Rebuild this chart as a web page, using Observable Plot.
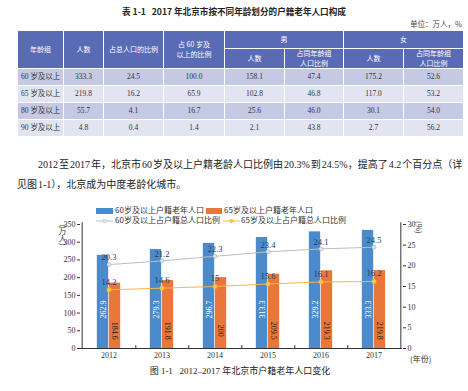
<!DOCTYPE html>
<html><head><meta charset="utf-8">
<script src="https://cdn.jsdelivr.net/npm/d3@7"></script>
<script src="https://cdn.jsdelivr.net/npm/@observablehq/plot@0.6"></script>
<style>
body{margin:0;background:#fff;}
#page{position:relative;width:468px;height:391px;overflow:hidden;font-family:"Liberation Serif","Noto Sans CJK SC",serif;color:#222;background:#fff;}
.abs{position:absolute;white-space:nowrap;}
#tbl{position:absolute;left:17px;top:30px;width:446px;border-collapse:collapse;table-layout:fixed;font-size:7.5px;}
#tbl td,#tbl th{border:1px solid #fff;padding:0;text-align:center;}
#tbl th{background:#5a6bb5;color:#fff;font-family:"Noto Sans CJK SC";font-weight:normal;line-height:9.5px;font-size:7px;}
#tbl td{color:#333;height:16px;line-height:10px;}
#tbl tr.odd td{background:#c6c9e4;}
#tbl tr.even td{background:#e2e4f1;}
#tbl td.first{text-align:left;padding-left:3px;}
.vert{writing-mode:vertical-rl;font-family:"Noto Sans CJK SC";font-size:8px;line-height:9px;color:#333;}
#chart{position:absolute;left:0;top:200px;}
.leg{font-family:"Noto Sans CJK SC";font-size:8px;color:#333;line-height:10px;}
.para{font-size:10px;word-spacing:-1.5px;color:#222;}
</style>
</head><body>
<div id="page">
  <div class="abs" style="left:0;width:468px;top:5px;text-align:center;font-family:'Noto Sans CJK SC';font-weight:bold;font-size:8.6px;color:#222;">表 1-1&nbsp;&nbsp; 2017 年北京市按不同年龄划分的户籍老年人口构成</div>
  <div class="abs" style="right:6px;top:18px;font-family:'Noto Sans CJK SC';font-size:7.5px;color:#444;">单位：万人，%</div>
  <table id="tbl"></table>
  <div class="abs para" style="left:38px;top:156px;">2012 至 2017 年，北京市 60 岁及以上户籍老龄人口比例由 20.3% 到 24.5%，提高了 4.2 个百分点（详</div>
  <div class="abs para" style="left:17px;top:176px;">见图 1-1），北京成为中度老龄化城市。</div>
  <div id="legend"></div>
  <div id="chart"></div>
  <div class="abs vert" style="left:58px;top:219px;">（万人）</div>
  <div class="abs vert" style="left:415px;top:221px;">(%)</div>
  <div class="abs" style="left:410px;top:353px;font-family:'Noto Sans CJK SC';font-size:8px;color:#333;">(年份)</div>
  <div class="abs" style="left:0;width:480px;top:364px;text-align:center;font-size:9px;color:#222;">图 1-1&nbsp;&nbsp; 2012–2017 年北京市户籍老年人口变化</div>
</div>
<script>
// ---- table data ----
const tableGroups = ["60 岁及以上", "65 岁及以上", "80 岁及以上", "90 岁及以上"];
const tableCount = [333.3, 219.8, 55.7, 4.8];
const tableShareTotal = [24.5, 16.2, 4.1, 0.4];
const tableShare60 = [100.0, 65.9, 16.7, 1.4];
const tableMale = [158.1, 102.8, 25.6, 2.1];
const tableMaleShare = [47.4, 46.8, 46.0, 43.8];
const tableFemale = [175.2, 117.0, 30.1, 2.7];
const tableFemaleShare = [52.6, 53.2, 54.0, 56.2];

// ---- chart data ----
const years = ["2012", "2013", "2014", "2015", "2016", "2017"];
const pop60 = [262.9, 279.3, 296.7, 313.3, 329.2, 333.3];
const pop65 = [184.6, 191.8, 200, 209.5, 219.3, 219.8];
const ratio60 = [20.3, 21.2, 22.3, 23.4, 24.1, 24.5];
const ratio65 = [14.2, 14.6, 15, 15.6, 16.1, 16.2];
const leftTicks = [0, 50, 100, 150, 200, 250, 300, 350];
const rightTicks = [0, 5, 10, 15, 20, 25, 30];
const legendLabels = ["60岁及以上户籍老年人口", "65岁及以上户籍老年人口", "60岁及以上占户籍总人口比例", "65岁及以上占户籍总人口比例"];

// build table
const tbl = document.getElementById("tbl");
const widths = [46, 40, 60, 61, 60, 59, 60, 60];
let html = "<colgroup>" + widths.map(w => `<col style="width:${w}px">`).join("") + "</colgroup>";
html += `<tr style="height:18px"><th rowspan="2">年龄组</th><th rowspan="2">人数</th><th rowspan="2">占总人口的比例</th><th rowspan="2">占 60 岁及<br>以上的比例</th><th colspan="2">男</th><th colspan="2">女</th></tr>`;
html += `<tr style="height:19px"><th>人数</th><th>占同年龄组<br>人口比例</th><th>人数</th><th>占同年龄组<br>人口比例</th></tr>`;
const f = v => v.toFixed(1);
tableGroups.forEach((g, i) => {
  html += `<tr class="${i % 2 === 0 ? "odd" : "even"}"><td class="first">${g}</td><td>${f(tableCount[i])}</td><td>${f(tableShareTotal[i])}</td><td>${f(tableShare60[i])}</td><td>${f(tableMale[i])}</td><td>${f(tableMaleShare[i])}</td><td>${f(tableFemale[i])}</td><td>${f(tableFemaleShare[i])}</td></tr>`;
});
tbl.innerHTML = html;

// legend
const blue = "#4b8bcb", orange = "#e9773a", grey = "#b9bdc3", yellow = "#f2b847";
const legend = document.getElementById("legend");
const lineIcon = (c, fillc) => `<svg width="17" height="6" style="vertical-align:middle"><line x1="0" y1="3" x2="17" y2="3" stroke="${c}" stroke-width="1"/><circle cx="8.5" cy="3" r="1.8" fill="${fillc}" stroke="${c}" stroke-width="0.6"/></svg>`;
legend.innerHTML =
  `<div class="abs leg" style="left:96px;top:205px;"><span style="display:inline-block;width:17px;height:6px;background:${blue};vertical-align:middle;margin-right:2px"></span>${legendLabels[0]}</div>` +
  `<div class="abs leg" style="left:206px;top:205px;"><span style="display:inline-block;width:16px;height:6px;background:${orange};vertical-align:middle;margin-right:2px"></span>${legendLabels[1]}</div>` +
  `<div class="abs leg" style="left:96px;top:215px;">${lineIcon(grey, "#dbe6f2")}<span style="margin-left:2px">${legendLabels[2]}</span></div>` +
  `<div class="abs leg" style="left:223px;top:215px;">${lineIcon(yellow, "#f6c84a")}<span style="margin-left:1px">${legendLabels[3]}</span></div>`;

// chart
const k = 350 / 30;
const data = years.map((year, i) => ({year, pop60: pop60[i], pop65: pop65[i], r60: ratio60[i], r65: ratio65[i]}));
const mL = 80, mR = 66, W = 468;
const bw = (W - mL - mR) / years.length;
const barW = 12;

const chart = Plot.plot({
  width: W, height: 165,
  marginLeft: mL, marginRight: mR, marginTop: 24, marginBottom: 17,
  x: {type: "band", domain: years, padding: 0, label: null},
  y: {domain: [0, 350], label: null},
  style: {fontFamily: "Liberation Serif", fontSize: "8px", color: "#333", background: "transparent"},
  marks: [
    Plot.barY(data, {x: "year", y: "pop60", fill: blue, insetLeft: bw / 2 - barW, insetRight: bw / 2}),
    Plot.barY(data, {x: "year", y: "pop65", fill: orange, insetLeft: bw / 2, insetRight: bw / 2 - barW}),
    Plot.text(data, {x: "year", y: 110, text: d => String(d.pop60), rotate: -90, dx: -6, fill: "white", fontSize: 8}),
    Plot.text(data, {x: "year", y: 50, text: d => String(d.pop65), rotate: 90, dx: 6, fill: "#2a1a10", fontSize: 8}),
    Plot.line(data, {x: "year", y: d => d.r60 * k, stroke: grey, strokeWidth: 1}),
    Plot.dot(data, {x: "year", y: d => d.r60 * k, r: 2, fill: "#dbe6f2", stroke: "#a9b4c0", strokeWidth: 0.7}),
    Plot.line(data, {x: "year", y: d => d.r65 * k, stroke: yellow, strokeWidth: 1}),
    Plot.dot(data, {x: "year", y: d => d.r65 * k, r: 2.2, fill: "#f6c84a", stroke: "#eeb030", strokeWidth: 0.5}),
    Plot.text(data, {x: "year", y: d => d.r60 * k, text: d => String(d.r60), dy: -7, fill: "#1d3a6a", fontSize: 8.5}),
    Plot.text(data, {x: "year", y: d => d.r65 * k, text: d => String(d.r65), dy: -8, fill: "#1d3a6a", fontSize: 8.5}),
    Plot.ruleY([0], {stroke: "#333", strokeWidth: 1}),
    Plot.ruleX([years[0]], {dx: -bw / 2, stroke: "#333", y1: 0, y2: 355}),
    Plot.ruleX([years[years.length - 1]], {dx: bw / 2, stroke: "#333", y1: 0, y2: 355}),
    Plot.ruleX(years.slice(0, -1), {dx: bw / 2, y1: 0, y2: 8, stroke: "#333"}),
    Plot.axisY(leftTicks, {anchor: "left", tickSize: 3, tickPadding: 2, label: null}),
    Plot.axisY(rightTicks.map(v => v * k), {anchor: "right", tickSize: 3, tickPadding: 2, tickFormat: d => Math.round(d / k), label: null}),
    Plot.axisX({tickSize: 0, tickPadding: 4, label: null})
  ]
});
document.getElementById("chart").appendChild(chart);
</script>
</body></html>
